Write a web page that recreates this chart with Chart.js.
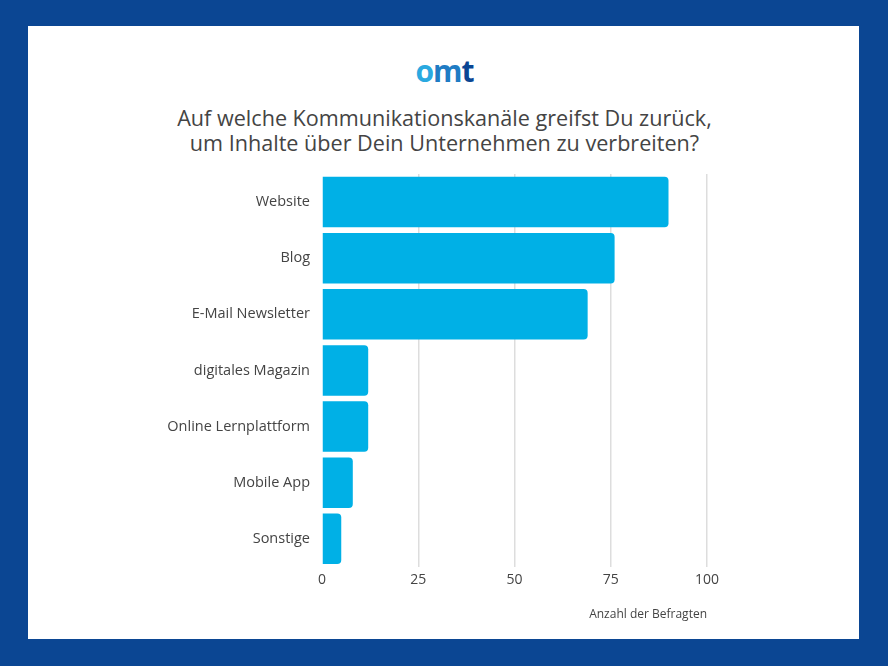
<!DOCTYPE html>
<html>
<head>
<meta charset="utf-8">
<script src="https://cdn.jsdelivr.net/npm/chart.js@4"></script>
<style>
  html, body { margin: 0; padding: 0; }
  body { width: 888px; height: 666px; background: #0b4693; position: relative; overflow: hidden; }
  #panel { position: absolute; left: 28px; top: 26px; width: 831px; height: 613px; background: #ffffff; }
  #logo { position: absolute; left: 0; width: 833px; top: 28px; text-align: center;
          font-family: "Open Sans", Lato, sans-serif; font-weight: 700; font-size: 30px; letter-spacing: -1px; line-height: 34px; }
  #logo .o { color: #2aa9e0; } #logo .m { color: #1f7cc4; } #logo .t { color: #0b4693; }
  #title { position: absolute; left: 0; width: 833px; top: 79px; text-align: center; color: #444444;
           font-family: "Open Sans", Lato, sans-serif; font-size: 21.6px; line-height: 25px; }
  #wrap { position: absolute; left: 0; top: 0; width: 831px; height: 613px; }
</style>
</head>
<body>
<div id="panel">
  <div id="logo"><span class="o">o</span><span class="m">m</span><span class="t">t</span></div>
  <div id="title"></div>
  <div id="wrap"><canvas id="c"></canvas></div>
</div>
<script>
const categories = ["Website", "Blog", "E-Mail Newsletter", "digitales Magazin", "Online Lernplattform", "Mobile App", "Sonstige"];
const respondents = [90, 76, 69, 12, 12, 8, 5];
const xTicks = [0, 25, 50, 75, 100];
const titleLines = ["Auf welche Kommunikationskanäle greifst Du zurück,", "um Inhalte über Dein Unternehmen zu verbreiten?"];
const xAxisTitle = "Anzahl der Befragten";

document.getElementById('title').innerHTML = titleLines.join('<br>');

const FONT = "'Open Sans', Lato, sans-serif";
new Chart(document.getElementById('c'), {
  type: 'bar',
  data: {
    labels: categories,
    datasets: [{
      data: respondents,
      backgroundColor: '#00b0e6',
      borderRadius: 4,
      borderSkipped: 'start',
      barPercentage: 0.9,
      categoryPercentage: 1.0
    }]
  },
  options: {
    indexAxis: 'y',
    responsive: true,
    maintainAspectRatio: false,
    animation: false,
    layout: { padding: { top: 148, right: 152, bottom: 17, left: 0 } },
    plugins: {
      legend: { display: false },
      tooltip: { enabled: false },
      title: { display: false }
    },
    scales: {
      x: {
        min: 0, max: 100,
        afterBuildTicks: (s) => { s.ticks = xTicks.map(v => ({ value: v })); },
        grid: { color: (ctx) => ctx.tick && ctx.tick.value === 0 ? 'rgba(0,0,0,0)' : '#dddddd', lineWidth: 1.5, drawTicks: false },
        border: { display: false },
        ticks: { color: '#444444', font: { family: FONT, size: 14 }, padding: 5 },
        title: { display: true, text: xAxisTitle, align: 'end', color: '#444444',
                 font: { family: FONT, size: 12 }, padding: { top: 14, bottom: 0 } }
      },
      y: {
        grid: { display: false },
        border: { display: false },
        ticks: { color: '#444444', font: { family: FONT, size: 14.5 }, padding: 4 },
        afterFit: (s) => { s.width = 294; }
      }
    }
  }
});
</script>
</body>
</html>
